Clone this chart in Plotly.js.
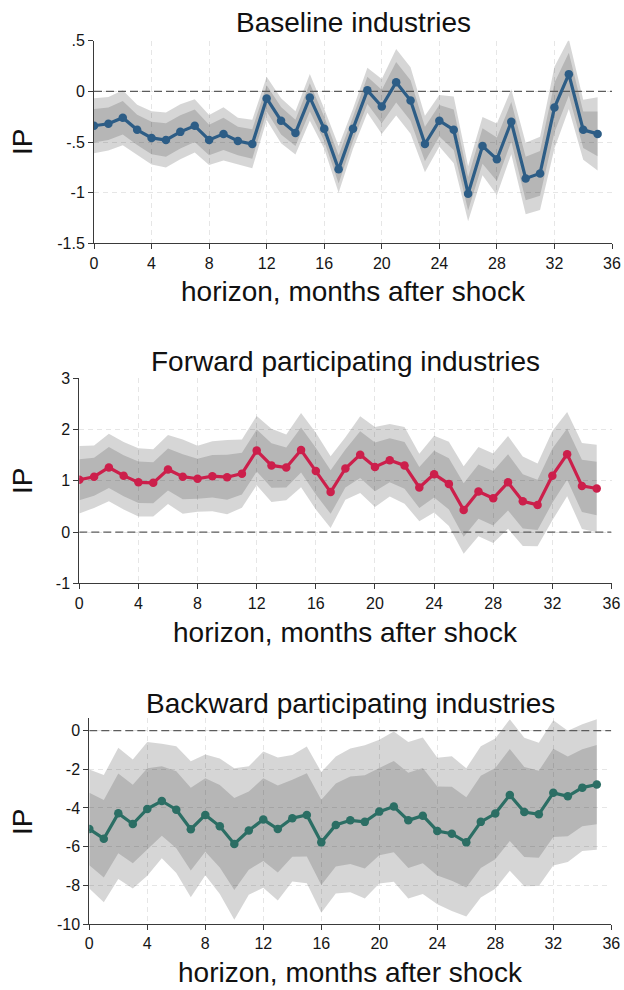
<!DOCTYPE html>
<html><head><meta charset="utf-8">
<script src="https://cdn.plot.ly/plotly-3.0.1.min.js"></script>
<style>html,body{margin:0;padding:0;background:#fff;overflow:hidden}</style>
</head><body><div id="chart" style="width:624px;height:990px"></div>
<script>
// ---- data ----
const horizon = [0,1,2,3,4,5,6,7,8,9,10,11,12,13,14,15,16,17,18,19,20,21,22,23,24,25,26,27,28,29,30,31,32,33,34,35];

const baselineCoef = [-0.34,-0.32,-0.26,-0.38,-0.46,-0.48,-0.40,-0.34,-0.48,-0.42,-0.49,-0.52,-0.07,-0.29,-0.41,-0.06,-0.37,-0.77,
                      -0.37,0.01,-0.15,0.09,-0.09,-0.52,-0.29,-0.38,-1.01,-0.54,-0.67,-0.30,-0.86,-0.81,-0.16,0.17,-0.38,-0.42];
const baselineSE   = [0.165,0.16,0.165,0.15,0.16,0.165,0.165,0.16,0.15,0.16,0.14,0.145,0.13,0.135,0.13,0.14,0.12,0.14,
                      0.12,0.135,0.165,0.2,0.2,0.17,0.155,0.2,0.165,0.175,0.215,0.195,0.215,0.22,0.245,0.21,0.18,0.22];

const forwardCoef = [1.02,1.08,1.26,1.10,0.97,0.96,1.22,1.08,1.04,1.09,1.07,1.14,1.59,1.30,1.26,1.60,1.19,0.78,
                     1.24,1.51,1.27,1.40,1.30,0.87,1.13,0.94,0.43,0.79,0.66,0.97,0.60,0.53,1.10,1.52,0.90,0.85];
const forwardSE   = [0.40,0.37,0.40,0.40,0.405,0.40,0.41,0.44,0.39,0.415,0.44,0.405,0.41,0.435,0.39,0.44,0.455,0.425,
                     0.37,0.455,0.475,0.43,0.455,0.40,0.455,0.50,0.52,0.53,0.53,0.55,0.53,0.49,0.53,0.50,0.51,0.52];

const backwardCoef = [-5.09,-5.59,-4.28,-4.83,-4.05,-3.64,-4.09,-5.10,-4.36,-4.95,-5.86,-5.17,-4.60,-5.09,-4.53,-4.36,-5.78,-4.88,
                      -4.64,-4.72,-4.19,-3.93,-4.64,-4.40,-5.19,-5.33,-5.78,-4.72,-4.29,-3.33,-4.21,-4.33,-3.22,-3.40,-2.95,-2.79];
const backwardSE   = [1.87,2.0,2.06,2.03,2.1,1.8,1.99,2.14,1.9,2.13,2.38,2.02,2.14,2.25,1.99,2.15,2.21,2.15,
                      2.26,2.41,2.26,2.36,2.46,2.46,2.3,2.43,2.33,2.38,2.36,2.38,2.33,2.25,2.28,2.06,1.99,2.05];

const panelTitles = ["Baseline industries", "Forward participating industries", "Backward participating industries"];
const xTitle = "horizon, months after shock";
const yTitle = "IP";
const xTickVals = [0,4,8,12,16,20,24,28,32,36];
const xTickText = ["0","4","8","12","16","20","24","28","32","36"];
const yTickVals1 = [0.5,0,-0.5,-1,-1.5];
const yTickText1 = [".5","0","-.5","-1","-1.5"];
const yTickVals2 = [3,2,1,0,-1];
const yTickText2 = ["3","2","1","0","-1"];
const yTickVals3 = [0,-2,-4,-6,-8,-10];
const yTickText3 = ["0","-2","-4","-6","-8","-10"];

// ---- style ----
const Z_INNER = 1.0, Z_OUTER = 1.645;
const FONT = "Liberation Sans, Arial, Helvetica, sans-serif";
const xRange = [0, 36];

const panels = [
  {coef: baselineCoef, se: baselineSE, color: "#2d5d86", yr: [-1.5, 0.5], tv: yTickVals1, tt: yTickText1,
   px: [94, 612], py: [40.7, 243.3], titleY: 22, xtY: 291, ipY: 142},
  {coef: forwardCoef, se: forwardSE, color: "#cc1f4b", yr: [-1, 3], tv: yTickVals2, tt: yTickText2,
   px: [79.3, 611.5], py: [378.3, 583.3], titleY: 361, xtY: 632, ipY: 481},
  {coef: backwardCoef, se: backwardSE, color: "#2b6e64", yr: [-10, 0.65], tv: yTickVals3, tt: yTickText3,
   px: [89.3, 611.3], py: [718, 924], titleY: 703, xtY: 972, ipY: 822}
];

const W = 624, H = 990;
const traces = [];
const layout = {
  width: W, height: H,
  margin: {l: 0, r: 0, t: 0, b: 0},
  paper_bgcolor: "#ffffff", plot_bgcolor: "rgba(0,0,0,0)",
  showlegend: false, hovermode: false,
  font: {family: FONT, color: "#111"},
  annotations: []
};

panels.forEach((p, i) => {
  const n = i === 0 ? "" : String(i + 1);
  const xa = "x" + n, ya = "y" + n;
  const band = (z) => {
    const up = p.coef.map((c, k) => c + z * p.se[k]);
    const lo = p.coef.map((c, k) => c - z * p.se[k]);
    return {
      x: horizon.concat(horizon.slice().reverse()),
      y: up.concat(lo.slice().reverse())
    };
  };
  const outer = band(Z_OUTER), inner = band(Z_INNER);
  traces.push({type: "scatter", mode: "lines", x: outer.x, y: outer.y, fill: "toself",
    fillcolor: "rgba(0,0,0,0.16)", line: {width: 0, color: "rgba(0,0,0,0)"}, xaxis: xa, yaxis: ya, hoverinfo: "skip"});
  traces.push({type: "scatter", mode: "lines", x: inner.x, y: inner.y, fill: "toself",
    fillcolor: "rgba(0,0,0,0.15)", line: {width: 0, color: "rgba(0,0,0,0)"}, xaxis: xa, yaxis: ya, hoverinfo: "skip"});
  traces.push({type: "scatter", mode: "lines", x: xRange, y: [0, 0],
    line: {color: "#5c5c5c", width: 1.3, dash: "8px,4px"}, xaxis: xa, yaxis: ya, hoverinfo: "skip"});
  traces.push({type: "scatter", mode: "lines+markers", x: horizon, y: p.coef,
    line: {color: p.color, width: 3.2}, marker: {color: p.color, size: 8.5},
    xaxis: xa, yaxis: ya});

  const axCommon = {
    showline: true, linecolor: "#3a3a3a", linewidth: 1,
    ticks: "outside", ticklen: 5, tickwidth: 1, tickcolor: "#3a3a3a",
    showgrid: true, gridcolor: "#e6e6e6", gridwidth: 1, griddash: "5px,4px",
    zeroline: false, tickfont: {family: FONT, size: 16, color: "#151515"},
    fixedrange: true
  };
  layout["xaxis" + n] = Object.assign({}, axCommon, {
    domain: [p.px[0] / W, p.px[1] / W], range: xRange, anchor: ya,
    tickmode: "array", tickvals: xTickVals, ticktext: xTickText
  });
  layout["yaxis" + n] = Object.assign({}, axCommon, {
    domain: [1 - p.py[1] / H, 1 - p.py[0] / H], range: p.yr, anchor: xa,
    tickmode: "array", tickvals: p.tv, ticktext: p.tt
  });
  const cx = (p.px[0] + p.px[1]) / 2 / W;
  layout.annotations.push({text: panelTitles[i], xref: "paper", yref: "paper", x: cx, y: 1 - p.titleY / H,
    xanchor: "center", yanchor: "middle", showarrow: false, font: {family: FONT, size: 28, color: "#111"}});
  layout.annotations.push({text: xTitle, xref: "paper", yref: "paper", x: cx, y: 1 - p.xtY / H,
    xanchor: "center", yanchor: "middle", showarrow: false, font: {family: FONT, size: 28, color: "#111"}});
  layout.annotations.push({text: yTitle, xref: "paper", yref: "paper", x: 22 / W, y: 1 - p.ipY / H,
    xanchor: "center", yanchor: "middle", textangle: -90, showarrow: false, font: {family: FONT, size: 28, color: "#111"}});
});

Plotly.newPlot("chart", traces, layout, {staticPlot: true, displayModeBar: false});
</script>
</body></html>
